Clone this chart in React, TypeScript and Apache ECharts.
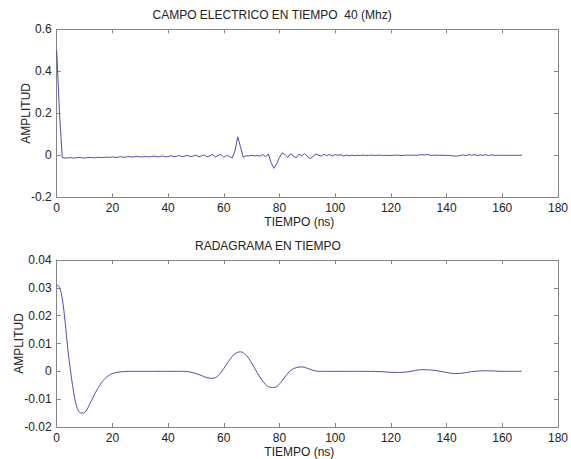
import React, { useEffect, useRef } from "react";
import * as echarts from "echarts";

// Top panel: electric field, sampled every 1 ns from 0 to 167 ns
const topAmp: number[] = [
  0.5, 0.2, -0.012, -0.013, -0.012, -0.011, -0.013, -0.012, -0.01, -0.012,
  -0.013, -0.011, -0.01, -0.012, -0.011, -0.009, -0.011, -0.01, -0.009, -0.01,
  -0.008, -0.01, -0.009, -0.007, -0.009, -0.008, -0.006, -0.008, -0.007, -0.005,
  -0.008, -0.007, -0.005, -0.008, -0.006, -0.004, -0.007, -0.006, -0.003, -0.007,
  -0.006, -0.002, -0.006, -0.005, -0.001, -0.006, -0.004, 0.0, -0.006, -0.004,
  0.001, -0.007, -0.003, 0.002, -0.007, -0.002, 0.003, -0.008, -0.001, 0.004,
  -0.01, 0.0, -0.005, -0.013, 0.02, 0.088, 0.04, -0.01, -0.002, -0.003,
  0.0, -0.003, -0.001, -0.004, 0.004, -0.006, 0.006, -0.035, -0.062, -0.04,
  -0.01, 0.012, 0.003, -0.01, 0.008, -0.004, -0.012, 0.006, -0.003, 0.008,
  -0.005, -0.016, -0.006, 0.006, 0.0, -0.004, 0.005, -0.002, 0.004, -0.003,
  0.003, 0.0, 0.003, -0.003, 0.001, -0.002, 0.001, -0.002, 0.0, -0.001,
  0.001, -0.001, 0.0, 0.001, -0.001, 0.0, 0.001, -0.001, 0.0, 0.0,
  -0.001, 0.0, 0.001, 0.0, -0.001, 0.0, 0.001, 0.0, 0.001, 0.0,
  0.002, 0.003, 0.001, 0.004, 0.001, 0.0, 0.001, 0.0, 0.0, 0.0,
  -0.001, 0.0, -0.002, -0.004, -0.003, -0.001, 0.002, -0.001, 0.003, 0.0,
  0.003, -0.001, 0.002, 0.0, 0.003, -0.001, 0.002, 0.0, 0.0, 0.0,
  0.0, 0.0, 0.0, 0.0, 0.0, 0.0, 0.0, 0.0,
];

// Bottom panel: radargram trace
const botTime: number[] = [
  0, 1, 2, 3, 4, 5, 6, 7, 8, 9, 10, 11, 12, 13, 14, 15, 16, 17, 18, 19, 20,
  22, 24, 26, 30, 36, 42, 46, 48, 50, 52, 54, 56, 58, 60, 62, 64, 66, 68, 70,
  72, 74, 76, 78, 80, 82, 84, 86, 88, 90, 92, 94, 98, 104, 110, 116, 122, 126,
  131, 136, 140, 143, 146, 150, 155, 160, 164, 167,
];
const botAmp: number[] = [
  0.031, 0.0302, 0.026, 0.018, 0.008, 0.0, -0.007, -0.012, -0.0145, -0.015, -0.0148,
  -0.0135, -0.0115, -0.0095, -0.0075, -0.0058, -0.0042, -0.003, -0.002, -0.0013, -0.0008,
  -0.0003, -0.0001, 0.0, 0.0, 0.0, 0.0, 0.0, -0.0003, -0.0008, -0.0015, -0.0023, -0.0025,
  -0.0015, 0.001, 0.004, 0.0063, 0.007, 0.0058, 0.003, -0.0005, -0.0035, -0.0055, -0.0058,
  -0.0045, -0.002, 0.0003, 0.0013, 0.0016, 0.0011, 0.0004, 0.0, 0.0, 0.0, 0.0,
  -0.0001, -0.0004, -0.0002, 0.0006, 0.0003, -0.0004, -0.0008, -0.0006, 0.0, 0.0002, 0.0, 0.0, 0.0,
];

const xTicksMax = 180;
const xTickStep = 20;
const topTitle = "CAMPO ELECTRICO EN TIEMPO  40 (Mhz)";
const botTitle = "RADAGRAMA EN TIEMPO";
const xName = "TIEMPO (ns)";
const yName = "AMPLITUD";

const FONT = "'Liberation Sans', Arial, sans-serif";
const AXIS_COLOR = "#858585";
const TEXT_COLOR = "#222";
const LINE_COLOR = "#4d4dab";

function fmt(v: number) {
  return String(parseFloat(v.toFixed(3)));
}

export default function App() {
  const ref = useRef<HTMLDivElement>(null);
  useEffect(() => {
    if (!ref.current) return;
    const chart = echarts.init(ref.current, null, { renderer: "svg" });
    const gridL = 56.7;
    const gridW = 506.8;
    const axisLine = { show: true, onZero: false, lineStyle: { color: AXIS_COLOR, width: 1 } };
    const tick = { show: true, inside: true, length: 4, lineStyle: { color: AXIS_COLOR } };
    const label = { fontSize: 12, fontFamily: FONT, color: TEXT_COLOR };
    const mkX = (g: number) => [
      {
        type: "value", gridIndex: g, min: 0, max: xTicksMax, interval: xTickStep,
        position: "bottom", axisLine, axisTick: tick, splitLine: { show: false },
        axisLabel: { ...label, margin: 5, formatter: (v: number) => fmt(v) },
        name: xName, nameLocation: "middle", nameGap: 19, nameMoveOverlap: false,
        nameTextStyle: { ...label, padding: [0, 16, 0, 0] },
      },
      {
        type: "value", gridIndex: g, min: 0, max: xTicksMax, interval: xTickStep,
        position: "top", axisLine, axisTick: tick, splitLine: { show: false },
        axisLabel: { show: false },
      },
    ];
    const mkY = (g: number, min: number, max: number, step: number, gap: number) => [
      {
        type: "value", gridIndex: g, min, max, interval: step, position: "left",
        axisLine, axisTick: tick, splitLine: { show: false },
        axisLabel: { ...label, margin: 5, formatter: (v: number) => fmt(v) },
        name: yName, nameLocation: "middle", nameRotate: 90, nameGap: gap, nameMoveOverlap: false,
        nameTextStyle: { ...label },
      },
      {
        type: "value", gridIndex: g, min, max, interval: step, position: "right",
        axisLine, axisTick: tick, splitLine: { show: false },
        axisLabel: { show: false },
      },
    ];
    chart.setOption({
      animation: false,
      backgroundColor: "#fff",
      title: [
        {
          text: topTitle, left: 152.5, top: 9, padding: 0,
          textStyle: { fontSize: 12, fontWeight: "normal", fontFamily: FONT, color: TEXT_COLOR },
        },
        {
          text: botTitle, left: 195, top: 240, padding: 0,
          textStyle: { fontSize: 12, fontWeight: "normal", fontFamily: FONT, color: TEXT_COLOR },
        },
      ],
      grid: [
        { left: gridL, top: 29.3, width: gridW, height: 168 },
        { left: gridL, top: 260, width: gridW, height: 168.3 },
      ],
      xAxis: [...mkX(0), ...mkX(1)],
      yAxis: [...mkY(0, -0.2, 0.6, 0.2, 25), ...mkY(1, -0.02, 0.04, 0.01, 32)],
      series: [
        {
          type: "line", xAxisIndex: 0, yAxisIndex: 0, showSymbol: false,
          data: topAmp.map((v, i) => [i, v]),
          lineStyle: { color: LINE_COLOR, width: 1 }, itemStyle: { color: LINE_COLOR },
        },
        {
          type: "line", xAxisIndex: 2, yAxisIndex: 2, showSymbol: false, smooth: 0.4,
          data: botAmp.map((v, i) => [botTime[i], v]),
          lineStyle: { color: LINE_COLOR, width: 1 }, itemStyle: { color: LINE_COLOR },
        },
      ],
    });
    return () => chart.dispose();
  }, []);
  return (
    <div
      ref={ref}
      style={{ position: "fixed", left: 0, top: 0, width: 571, height: 459, background: "#fff" }}
    />
  );
}
